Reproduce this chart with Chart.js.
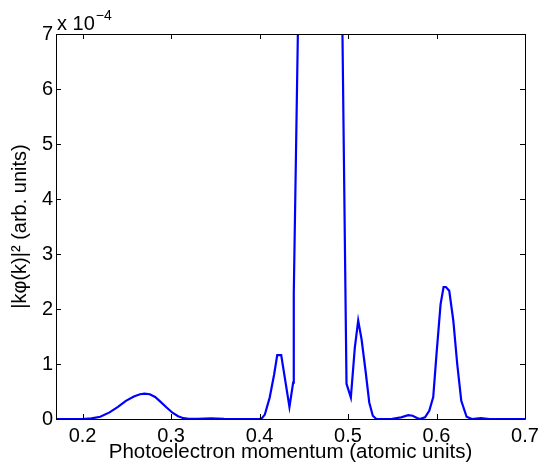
<!DOCTYPE html>
<html>
<head>
<meta charset="utf-8">
<script src="https://cdn.jsdelivr.net/npm/chart.js@4/dist/chart.umd.min.js"></script>
<style>
  html, body { margin: 0; padding: 0; background: #ffffff; }
  #wrap { width: 546px; height: 465px; }
</style>
</head>
<body>
<div id="wrap"><canvas id="c" width="546" height="465"></canvas></div>
<script>
// Photoelectron momentum (atomic units)
const momentum = [
  0.170, 0.200, 0.210, 0.220, 0.2305, 0.240, 0.249, 0.258, 0.265, 0.270,
  0.276, 0.282, 0.287, 0.295, 0.302, 0.308, 0.314, 0.320, 0.330, 0.345,
  0.360, 0.380, 0.400, 0.403, 0.406, 0.4115, 0.4165, 0.420, 0.4245, 0.4338,
  0.438, 0.4387, 0.4443, 0.455, 0.468, 0.480, 0.4930, 0.4983, 0.5032, 0.5077,
  0.5115, 0.5153, 0.520, 0.524, 0.528, 0.532, 0.550, 0.560, 0.568, 0.573,
  0.578, 0.581, 0.587, 0.5918, 0.5963, 0.600, 0.6046, 0.608, 0.6106, 0.6144,
  0.619, 0.6234, 0.628, 0.634, 0.640, 0.650, 0.660, 0.700
];
// |k phi(k)|^2 in units of 1e-4
const intensity = [
  0.000, 0.000, 0.010, 0.040, 0.120, 0.220, 0.330, 0.410, 0.450, 0.460,
  0.450, 0.400, 0.330, 0.210, 0.110, 0.050, 0.015, 0.003, 0.002, 0.010,
  0.002, 0.000, 0.000, 0.020, 0.080, 0.390, 0.810, 1.160, 1.160, 0.220,
  0.660, 2.280, 8.000, 25.00, 35.00, 25.00, 8.000, 0.640, 0.390, 1.300,
  1.790, 1.450, 0.850, 0.300, 0.060, 0.000, 0.005, 0.030, 0.070, 0.060,
  0.020, 0.000, 0.030, 0.150, 0.400, 1.180, 2.090, 2.400, 2.400, 2.330,
  1.790, 1.000, 0.330, 0.040, 0.000, 0.015, 0.000, 0.000
];
const xTicks = [0.2, 0.3, 0.4, 0.5, 0.6, 0.7];
const yTicks = [0, 1, 2, 3, 4, 5, 6, 7];
const xLabel = 'Photoelectron momentum (atomic units)';
const yLabel = '|kφ(k)|² (arb. units)';
const exponentBase = 'x 10';
const exponentPower = '−4';

const FONT = '"Liberation Sans", Arial, Helvetica, sans-serif';

const points = momentum.map((m, i) => ({ x: m, y: intensity[i] }));

const boxPlugin = {
  id: 'matlabBox',
  afterDraw(chart) {
    const ctx = chart.ctx;
    const a = chart.chartArea;
    const xs = chart.scales.x, ys = chart.scales.y;
    const L = 5;
    ctx.save();
    ctx.strokeStyle = '#000';
    ctx.lineWidth = 1;
    ctx.beginPath();
    ctx.rect(Math.round(a.left) + 0.5, Math.round(a.top) + 0.5,
             Math.round(a.right - a.left), Math.round(a.bottom - a.top));
    xTicks.forEach(v => {
      const px = Math.round(xs.getPixelForValue(v)) + 0.5;
      ctx.moveTo(px, a.bottom); ctx.lineTo(px, a.bottom - L);
      ctx.moveTo(px, a.top); ctx.lineTo(px, a.top + L);
    });
    yTicks.forEach(v => {
      const py = Math.round(ys.getPixelForValue(v)) + 0.5;
      ctx.moveTo(a.left, py); ctx.lineTo(a.left + L, py);
      ctx.moveTo(a.right, py); ctx.lineTo(a.right - L, py);
    });
    ctx.stroke();
    // exponent label
    ctx.fillStyle = '#000';
    ctx.textBaseline = 'alphabetic';
    ctx.textAlign = 'left';
    ctx.font = '20px ' + FONT;
    ctx.fillText(exponentBase, a.left + 1, 30);
    const w = ctx.measureText(exponentBase).width;
    ctx.font = '14px ' + FONT;
    ctx.fillText(exponentPower, a.left + 1 + w + 1, 20);
    ctx.restore();
  }
};

new Chart(document.getElementById('c'), {
  type: 'line',
  data: {
    datasets: [{
      data: points,
      borderColor: '#0000ff',
      borderWidth: 2.2,
      pointRadius: 0,
      tension: 0,
      fill: false
    }]
  },
  options: {
    responsive: false,
    animation: false,
    devicePixelRatio: 1,
    layout: { padding: { left: 0, right: 21, top: 34, bottom: 0 } },
    plugins: { legend: { display: false }, tooltip: { enabled: false } },
    scales: {
      x: {
        type: 'linear',
        min: 0.17,
        max: 0.7,
        grid: { display: false, drawTicks: false, tickLength: 0 },
        border: { display: false },
        afterBuildTicks: s => { s.ticks = xTicks.map(v => ({ value: v })); },
        afterFit: s => { s.height = 46; },
        ticks: {
          color: '#000',
          font: { family: FONT, size: 20 },
          padding: 5,
          maxRotation: 0,
          callback: v => v.toFixed(1)
        },
        title: {
          display: true,
          text: xLabel,
          color: '#000',
          font: { family: FONT, size: 20.5 },
          padding: { top: -3, bottom: 0 }
        }
      },
      y: {
        type: 'linear',
        min: 0,
        max: 7,
        grid: { display: false, drawTicks: false, tickLength: 0 },
        border: { display: false },
        afterBuildTicks: s => { s.ticks = yTicks.map(v => ({ value: v })); },
        afterFit: s => { s.width = 56; },
        ticks: {
          color: '#000',
          font: { family: FONT, size: 20 },
          padding: 3,
          callback: v => String(v)
        },
        title: {
          display: true,
          text: yLabel,
          color: '#000',
          font: { family: FONT, size: 20 },
          padding: { top: 8, bottom: 0 }
        }
      }
    }
  },
  plugins: [boxPlugin]
});
</script>
</body>
</html>
